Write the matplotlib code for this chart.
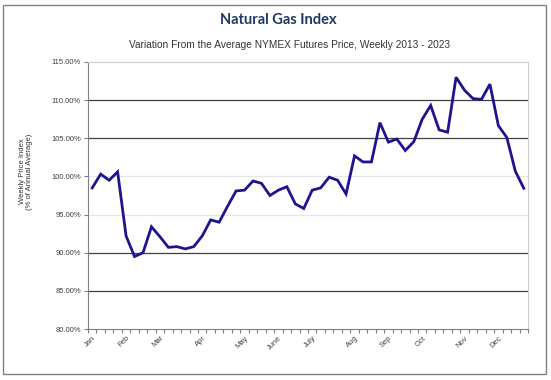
import numpy as np
import matplotlib.pyplot as plt
from matplotlib.patches import Rectangle
from matplotlib.ticker import FixedLocator, PercentFormatter

# weekly index values (% of annual average), 52 weeks
index_values = [98.5, 100.3, 99.5, 100.6, 92.2, 89.5, 90.0, 93.4, 92.1, 90.7,
                90.8, 90.5, 90.8, 92.2, 94.3, 94.0, 96.1, 98.1, 98.2, 99.4,
                99.1, 97.5, 98.2, 98.65, 96.4, 95.8, 98.2, 98.5, 99.9, 99.5,
                97.7, 102.7, 101.9, 101.9, 107.05, 104.5, 104.9, 103.4, 104.55, 107.5,
                109.3, 106.1, 105.8, 113.0, 111.3, 110.2, 110.1, 112.1, 106.65, 105.1,
                100.7, 98.45]

month_labels = ["Jan", "Feb", "Mar", "Apr", "May", "June",
                "July", "Aug", "Sep", "Oct", "Nov", "Dec"]
month_weeks = [0, 4, 8, 13, 18, 22, 26, 31, 35, 39, 44, 48]

dark_grid = [85, 90, 105, 110]
light_grid = [95, 100]

fig = plt.figure(figsize=(5.51, 3.80), dpi=100)
ax = fig.add_axes([88 / 551, 1 - 329 / 380, 440 / 551, 267 / 380])

weeks = np.arange(len(index_values))
ax.plot(weeks, index_values, color="#1f1490", lw=2.0, zorder=3,
        solid_joinstyle="miter")

for g in dark_grid:
    ax.axhline(g, color="#404040", lw=0.9, zorder=1)
for g in light_grid:
    ax.axhline(g, color="#e6e6e6", lw=0.9, zorder=1)

ax.set_xlim(-0.5, len(index_values) - 0.5)
ax.set_ylim(80, 115)
ax.yaxis.set_major_locator(FixedLocator(np.arange(80, 116, 5)))
ax.yaxis.set_major_formatter(PercentFormatter(decimals=2))

# week boundary ticks without labels, month labels on category centres
ax.xaxis.set_major_locator(FixedLocator(np.arange(-0.5, len(index_values), 1.0)))
ax.set_xticklabels([])
ax.set_xticks(month_weeks, month_labels, minor=True)
ax.tick_params(axis="x", which="major", length=3, color="#808080", width=0.8)
ax.tick_params(axis="x", which="minor", length=0, pad=4)
for lab in ax.get_xticklabels(minor=True):
    lab.set_rotation(45)
    lab.set_ha("right")
    lab.set_rotation_mode("anchor")
    lab.set_fontsize(5.5)
    lab.set_color("#404040")
    lab.set_fontfamily("Liberation Sans")

ax.tick_params(axis="y", length=3, color="#808080", width=0.8,
               labelsize=5.5, labelcolor="#404040", pad=2)
for lab in ax.get_yticklabels():
    lab.set_fontfamily("Liberation Sans")

ax.spines["left"].set_color("#808080")
ax.spines["bottom"].set_color("#808080")
ax.spines["top"].set_color("#d0d0d0")
ax.spines["right"].set_color("#d0d0d0")

ax.set_ylabel("Weekly Price Index\n(% of Annual Average)", fontsize=5.5,
              color="#333333", family="Liberation Sans", linespacing=1.1)
ax.yaxis.set_label_coords(-0.125, 0.59)

fig.text(0.505, 0.947, "Natural Gas Index", ha="center", va="center",
         fontsize=10.5, fontweight="bold", color="#1f3864", family="Lato")
fig.text(0.525, 0.882,
         "Variation From the Average NYMEX Futures Price, Weekly 2013 - 2023",
         ha="center", va="center", fontsize=7.3, color="#333333",
         family="Liberation Sans")

fig.patches.append(Rectangle((3 / 551, 1 - 374 / 380), 543 / 551, 369 / 380,
                             transform=fig.transFigure, fill=False,
                             edgecolor="#808080", lw=1.0))

fig.savefig("out.png", dpi=100)
